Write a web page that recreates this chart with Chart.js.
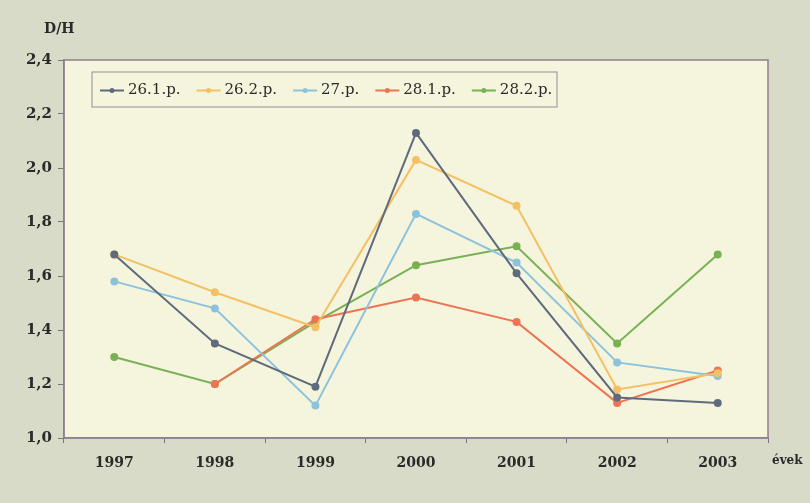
<!DOCTYPE html>
<html>
<head>
<meta charset="utf-8">
<script src="https://cdn.jsdelivr.net/npm/chart.js@4/dist/chart.umd.min.js"></script>
<style>
  html, body { margin: 0; padding: 0; background: #d7dbc7; }
  #wrap { width: 810px; height: 503px; }
</style>
</head>
<body>
<div id="wrap"><canvas id="dhChart" width="810" height="503"></canvas></div>
<script>
// évek
const years = ['1997', '1998', '1999', '2000', '2001', '2002', '2003'];
const seriesNames = ['26.1.p.', '26.2.p.', '27.p.', '28.1.p.', '28.2.p.'];

// D/H értékek parcellánként
const p261 = [1.68, 1.35, 1.19, 2.13, 1.61, 1.15, 1.13];
const p262 = [1.68, 1.54, 1.41, 2.03, 1.86, 1.18, 1.24];
const p27  = [1.58, 1.48, 1.12, 1.83, 1.65, 1.28, 1.23];
const p281 = [null, 1.20, 1.44, 1.52, 1.43, 1.13, 1.25];
const p282 = [1.30, 1.20, 1.43, 1.64, 1.71, 1.35, 1.68];

const yTicks = [1.0, 1.2, 1.4, 1.6, 1.8, 2.0, 2.2, 2.4];

const colors = ['#5f6b7c', '#f4c064', '#8cc3dc', '#ef7352', '#79b053'];
const serif = '"DejaVu Serif", "Liberation Serif", serif';

function makeSet(i, data) {
    return {
        label: seriesNames[i],
        data: data,
        borderColor: colors[i],
        backgroundColor: colors[i],
        pointBackgroundColor: colors[i],
        pointBorderColor: colors[i],
        borderWidth: 2,
        pointRadius: 3,
        tension: 0,
        spanGaps: false
    };
}

// háttér + keret a rajzterület körül
const frame = {
    id: 'frame',
    beforeDraw(chart) {
        const ctx = chart.ctx, a = chart.chartArea;
        ctx.save();
        ctx.fillStyle = '#d7dbc7';
        ctx.fillRect(0, 0, chart.width, chart.height);
        ctx.fillStyle = '#f5f5de';
        ctx.fillRect(a.left, a.top, a.right - a.left, a.bottom - a.top);
        ctx.restore();
    },
    afterDatasetsDraw(chart) {
        const ctx = chart.ctx, a = chart.chartArea;
        ctx.save();
        ctx.strokeStyle = '#8f7f8f';
        ctx.lineWidth = 1.5;
        ctx.strokeRect(a.left, a.top, a.right - a.left, a.bottom - a.top);
        // tengelyfeliratok
        ctx.fillStyle = '#2a2a2a';
        ctx.font = 'bold 14px ' + serif;
        ctx.textBaseline = 'middle';
        ctx.textAlign = 'left';
        ctx.fillText('D/H', 44, 29);
        ctx.font = 'bold 12px ' + serif;
        ctx.fillText('évek', a.right + 4, 461);
        // jelmagyarázat a rajzterületen belül
        const lx = a.left + 28, ly = a.top + 12, lw = 465, lh = 35;
        ctx.fillStyle = '#f5f5de';
        ctx.fillRect(lx, ly, lw, lh);
        ctx.strokeStyle = '#9a8a9a';
        ctx.lineWidth = 1;
        ctx.strokeRect(lx, ly, lw, lh);
        ctx.font = '15px ' + serif;
        let x = lx + 8;
        const cy = ly + lh / 2 + 1;
        chart.data.datasets.forEach(function (ds) {
            ctx.strokeStyle = ds.borderColor;
            ctx.lineWidth = 2;
            ctx.beginPath();
            ctx.moveTo(x, cy);
            ctx.lineTo(x + 24, cy);
            ctx.stroke();
            ctx.fillStyle = ds.borderColor;
            ctx.beginPath();
            ctx.arc(x + 12, cy, 2.5, 0, Math.PI * 2);
            ctx.fill();
            ctx.fillStyle = '#2a2a2a';
            ctx.fillText(ds.label, x + 28, cy);
            x += 28 + ctx.measureText(ds.label).width + 16;
        });
        ctx.restore();
    }
};

new Chart(document.getElementById('dhChart').getContext('2d'), {
    type: 'line',
    data: {
        labels: years,
        datasets: [
            makeSet(0, p261),
            makeSet(1, p262),
            makeSet(2, p27),
            makeSet(3, p281),
            makeSet(4, p282)
        ]
    },
    options: {
        responsive: false,
        animation: false,
        layout: { padding: { top: 60, right: 42, left: 0, bottom: 0 } },
        plugins: {
            legend: { display: false },
            tooltip: { enabled: false }
        },
        scales: {
            x: {
                type: 'category',
                offset: true,
                border: { display: true, color: '#8f7f8f', width: 1.5 },
                grid: {
                    offset: true,
                    drawOnChartArea: false,
                    drawTicks: true,
                    tickLength: 5,
                    color: '#7f6f7f'
                },
                ticks: {
                    color: '#2a2a2a',
                    font: { family: serif, size: 14, weight: 'bold' },
                    padding: 12,
                    maxRotation: 0
                },
                afterFit(scale) { scale.height = 65; }
            },
            y: {
                min: 1.0,
                max: 2.4,
                afterBuildTicks(scale) {
                    scale.ticks = yTicks.map(v => ({ value: v }));
                },
                border: { display: true, color: '#8f7f8f', width: 1.5 },
                grid: {
                    drawOnChartArea: false,
                    drawTicks: true,
                    tickLength: 6,
                    color: '#7f6f7f'
                },
                ticks: {
                    color: '#2a2a2a',
                    font: { family: serif, size: 15, weight: 'bold' },
                    padding: 6,
                    callback: v => v.toFixed(1).replace('.', ',')
                },
                afterFit(scale) { scale.width = 64; }
            }
        }
    },
    plugins: [frame]
});
</script>
</body>
</html>
